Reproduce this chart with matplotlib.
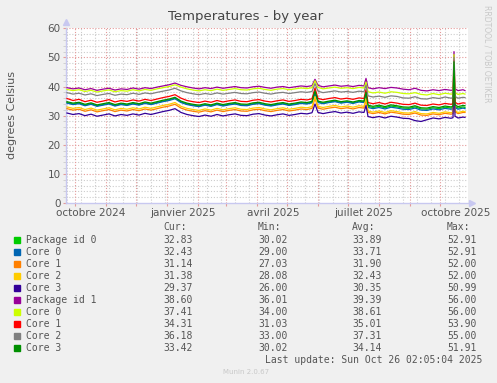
import datetime as dt
import matplotlib
matplotlib.use("Agg")
import matplotlib.pyplot as plt
import matplotlib.dates as mdates
from matplotlib.ticker import MultipleLocator

W, H = 497, 383

# --- data (daily averages) ---
start = dt.date(2024, 9, 23)
day_offsets = [0, 6, 12, 18, 24, 30, 36, 42, 48, 54,
               60, 66, 72, 78, 84, 90, 96, 102, 108, 114,
               120, 126, 132, 138, 144, 150, 156, 162, 168, 174,
               180, 186, 192, 198, 204, 210, 216, 222, 228, 234,
               240, 245, 248, 251, 256, 262, 268, 274, 280, 286,
               292, 297, 299, 301, 306, 312, 318, 324, 330, 336,
               342, 348, 354, 360, 366, 372, 378, 384, 386, 387,
               388, 391, 396, 398]

pkg0 = [34.5, 34.0, 34.3, 33.6, 34.1, 33.4, 33.8, 34.2, 33.5, 34.0,
        33.7, 34.2, 33.8, 34.4, 34.0, 34.5, 35.0, 35.4, 36.0, 34.7,
        34.0, 33.6, 33.3, 33.8, 33.4, 34.0, 33.5, 33.9, 34.2, 33.7,
        33.6, 34.1, 34.3, 33.8, 33.5, 33.9, 34.2, 33.7, 34.0, 34.4,
        34.2, 34.6, 38.0, 34.7, 34.3, 34.7, 35.0, 34.5, 34.8, 34.4,
        34.9, 34.7, 37.5, 33.2, 32.8, 33.2, 32.7, 33.3, 33.0, 32.6,
        32.5, 33.0, 32.3, 32.2, 32.7, 32.4, 32.9, 32.6, 32.8, 48.0,
        33.2, 32.6, 33.0, 32.8]
core0_a = [34.3, 33.8, 34.1, 33.4, 33.9, 33.2, 33.6, 34.0, 33.3, 33.8,
           33.5, 34.0, 33.6, 34.2, 33.8, 34.3, 34.8, 35.2, 35.8, 34.5,
           33.8, 33.4, 33.1, 33.6, 33.2, 33.8, 33.3, 33.7, 34.0, 33.5,
           33.4, 33.9, 34.1, 33.6, 33.3, 33.7, 34.0, 33.5, 33.8, 34.2,
           34.0, 34.4, 37.8, 34.5, 34.1, 34.5, 34.8, 34.3, 34.6, 34.2,
           34.7, 34.5, 37.2, 32.8, 32.4, 32.8, 32.3, 32.9, 32.6, 32.2,
           32.1, 32.6, 31.9, 31.8, 32.3, 32.0, 32.5, 32.2, 32.4, 48.0,
           32.8, 32.2, 32.6, 32.4]
core1_a = [32.4, 31.9, 32.2, 31.5, 32.0, 31.3, 31.7, 32.1, 31.4, 31.9,
           31.6, 32.1, 31.7, 32.3, 31.9, 32.4, 32.9, 33.3, 33.9, 32.6,
           31.9, 31.5, 31.2, 31.7, 31.3, 31.9, 31.4, 31.8, 32.1, 31.6,
           31.5, 32.0, 32.2, 31.7, 31.4, 31.8, 32.1, 31.6, 31.9, 32.3,
           32.1, 32.5, 36.0, 32.6, 32.2, 32.6, 32.9, 32.4, 32.7, 32.3,
           32.8, 32.6, 35.5, 31.1, 30.7, 31.1, 30.6, 31.2, 30.9, 30.5,
           30.4, 30.9, 30.2, 30.1, 30.6, 30.3, 30.8, 30.5, 30.7, 47.0,
           31.3, 30.7, 31.1, 31.1]
core2_a = [33.0, 32.5, 32.8, 32.1, 32.6, 31.9, 32.3, 32.7, 32.0, 32.5,
           32.2, 32.7, 32.3, 32.9, 32.5, 33.0, 33.5, 33.9, 34.5, 33.2,
           32.5, 32.1, 31.8, 32.3, 31.9, 32.5, 32.0, 32.4, 32.7, 32.2,
           32.1, 32.6, 32.8, 32.3, 32.0, 32.4, 32.7, 32.2, 32.5, 32.9,
           32.7, 33.1, 36.5, 33.2, 32.8, 33.2, 33.5, 33.0, 33.3, 32.9,
           33.4, 33.2, 36.0, 31.6, 31.2, 31.6, 31.1, 31.7, 31.4, 31.0,
           30.9, 31.4, 30.7, 30.6, 31.1, 30.8, 31.3, 31.0, 31.2, 47.5,
           31.7, 31.1, 31.5, 31.4]
core3_a = [30.9, 30.4, 30.7, 30.0, 30.5, 29.8, 30.2, 30.6, 29.9, 30.4,
           30.1, 30.6, 30.2, 30.8, 30.4, 30.9, 31.4, 31.8, 32.4, 31.1,
           30.4, 30.0, 29.7, 30.2, 29.8, 30.4, 29.9, 30.3, 30.6, 30.1,
           30.0, 30.5, 30.7, 30.2, 29.9, 30.3, 30.6, 30.1, 30.4, 30.8,
           30.6, 31.0, 34.0, 31.1, 30.7, 31.1, 31.4, 30.9, 31.2, 30.8,
           31.3, 31.1, 33.5, 29.7, 29.3, 29.7, 29.2, 29.8, 29.5, 29.1,
           29.0, 28.3, 28.0, 28.6, 29.2, 28.9, 29.4, 29.1, 29.3, 46.0,
           29.8, 29.2, 29.5, 29.4]
pkg1 = [39.6, 39.2, 39.5, 38.9, 39.3, 38.7, 39.1, 39.4, 38.8, 39.2,
        39.0, 39.5, 39.1, 39.6, 39.3, 39.8, 40.2, 40.6, 41.2, 40.4,
        39.9, 39.5, 39.2, 39.6, 39.3, 39.8, 39.4, 39.7, 40.0, 39.6,
        39.5, 39.9, 40.1, 39.7, 39.4, 39.8, 40.0, 39.6, 39.9, 40.2,
        40.0, 40.3, 42.5, 40.4, 39.9, 40.2, 40.5, 40.1, 40.3, 40.0,
        40.4, 40.2, 42.8, 39.6, 39.2, 39.6, 39.3, 39.7, 39.5, 39.1,
        38.9, 39.4, 38.7, 38.5, 38.9, 38.6, 39.0, 38.7, 38.8, 52.0,
        39.2, 38.6, 38.9, 38.6]
core0_b = [39.0, 38.6, 38.9, 38.3, 38.7, 38.1, 38.5, 38.8, 38.2, 38.6,
           38.4, 38.9, 38.5, 39.0, 38.7, 39.2, 39.6, 40.0, 40.6, 39.8,
           39.2, 38.8, 38.5, 38.9, 38.6, 39.1, 38.7, 39.0, 39.3, 38.9,
           38.8, 39.2, 39.4, 39.0, 38.7, 39.1, 39.3, 38.9, 39.2, 39.5,
           39.3, 39.6, 42.0, 39.7, 39.2, 39.5, 39.8, 39.4, 39.6, 39.3,
           39.7, 39.5, 41.5, 38.2, 37.8, 38.1, 37.7, 38.2, 38.0, 37.6,
           37.5, 37.9, 37.3, 37.1, 37.6, 37.2, 37.7, 37.4, 37.5, 51.0,
           37.9, 37.3, 37.6, 37.4]
core1_b = [35.9, 35.2, 35.6, 34.8, 35.3, 34.6, 35.0, 35.5, 34.7, 35.2,
           34.9, 35.4, 35.0, 35.6, 35.2, 35.7, 36.2, 36.6, 37.2, 36.0,
           35.2, 34.8, 34.5, 35.0, 34.6, 35.2, 34.7, 35.1, 35.4, 34.9,
           34.8, 35.3, 35.5, 35.0, 34.7, 35.1, 35.4, 34.9, 35.2, 35.6,
           35.4, 35.8, 39.5, 35.9, 35.5, 35.9, 36.2, 35.7, 36.0, 35.6,
           36.1, 35.9, 39.0, 34.5, 34.1, 34.5, 34.0, 34.6, 34.3, 33.9,
           33.8, 34.3, 33.6, 33.5, 34.0, 33.7, 34.2, 33.9, 34.1, 49.0,
           34.6, 34.0, 34.4, 34.3]
core2_b = [37.9, 37.4, 37.7, 37.1, 37.5, 36.9, 37.3, 37.6, 37.0, 37.4,
           37.2, 37.7, 37.3, 37.8, 37.5, 38.0, 38.4, 38.8, 39.4, 38.5,
           37.9, 37.5, 37.2, 37.6, 37.3, 37.8, 37.4, 37.7, 38.0, 37.6,
           37.5, 37.9, 38.1, 37.7, 37.4, 37.8, 38.0, 37.6, 37.9, 38.2,
           38.0, 38.3, 41.0, 38.4, 37.9, 38.2, 38.5, 38.1, 38.3, 38.0,
           38.4, 38.2, 40.5, 36.8, 36.4, 36.7, 36.3, 36.8, 36.6, 36.1,
           36.0, 36.5, 35.8, 35.7, 36.2, 35.9, 36.4, 36.0, 36.2, 50.0,
           36.6, 36.0, 36.3, 36.2]
core3_b = [34.8, 34.3, 34.6, 33.9, 34.4, 33.7, 34.1, 34.5, 33.8, 34.3,
           34.0, 34.5, 34.1, 34.7, 34.3, 34.8, 35.3, 35.7, 36.3, 35.0,
           34.3, 33.9, 33.6, 34.1, 33.7, 34.3, 33.8, 34.2, 34.5, 34.0,
           33.9, 34.4, 34.6, 34.1, 33.8, 34.2, 34.5, 34.0, 34.3, 34.7,
           34.5, 34.9, 38.5, 35.0, 34.6, 35.0, 35.3, 34.8, 35.1, 34.7,
           35.2, 35.0, 38.0, 33.6, 33.2, 33.6, 33.1, 33.7, 33.4, 33.0,
           32.9, 33.4, 32.7, 32.6, 33.1, 32.8, 33.3, 33.0, 33.2, 48.5,
           33.7, 33.1, 33.5, 33.4]

labels = ["Package id 0", "Core 0", "Core 1", "Core 2", "Core 3",
          "Package id 1", "Core 0", "Core 1", "Core 2", "Core 3"]
colors = ["#00cc00", "#0066b3", "#ff8000", "#ffcc00", "#330099",
          "#990099", "#ccff00", "#ff0000", "#808080", "#008f00"]
cur_vals = ["32.83", "32.43", "31.14", "31.38", "29.37",
            "38.60", "37.41", "34.31", "36.18", "33.42"]
min_vals = ["30.02", "29.00", "27.03", "28.08", "26.00",
            "36.01", "34.00", "31.03", "33.00", "30.02"]
avg_vals = ["33.89", "33.71", "31.90", "32.43", "30.35",
            "39.39", "38.61", "35.01", "37.31", "34.14"]
max_vals = ["52.91", "52.91", "52.00", "52.00", "50.99",
            "56.00", "56.00", "53.90", "55.00", "51.91"]
month_labels = ["octobre 2024", "janvier 2025", "avril 2025",
                "juillet 2025", "octobre 2025"]
label_months = [dt.date(2024, 10, 1), dt.date(2025, 1, 1), dt.date(2025, 4, 1),
                dt.date(2025, 7, 1), dt.date(2025, 10, 1)]

series = [pkg0, core0_a, core1_a, core2_a, core3_a,
          pkg1, core0_b, core1_b, core2_b, core3_b]
dates = [start + dt.timedelta(days=d) for d in day_offsets]

BG = "#f0f0f0"
TXT = "#555555"
MINOR = "#cccccc"
MAJOR = "#e49a9a"


def fx(px):
    return px / W


def fy(py):
    return 1 - py / H


fig = plt.figure(figsize=(W / 100, H / 100), dpi=100, facecolor=BG)
ax = fig.add_axes([fx(66), fy(203), 402 / W, 174.7 / H], facecolor="white")

x0 = mdates.date2num(dt.date(2024, 9, 22))
x1 = x0 + 402
ax.set_xlim(x0, x1)
ax.set_ylim(0, 60)

# grid: minor gray, major red-ish, both dotted
dot = (0, (1, 1.6))
for v in range(2, 60, 2):
    if v % 10:
        ax.axhline(v, color=MINOR, lw=0.8, ls=dot, zorder=1)
for v in range(10, 61, 10):
    ax.axhline(v, color=MAJOR, lw=0.8, ls=dot, zorder=1)

d = dt.date(2024, 9, 23)
while mdates.date2num(d) < x1:
    ax.axvline(mdates.date2num(d), color=MINOR, lw=0.8, ls=dot, zorder=1)
    d += dt.timedelta(days=14)

months = []
y, m = 2024, 10
while mdates.date2num(dt.date(y, m, 1)) < x1:
    months.append(mdates.date2num(dt.date(y, m, 1)))
    m += 1
    if m > 12:
        y, m = y + 1, 1
for mx in months:
    ax.axvline(mx, color=MAJOR, lw=0.8, ls=dot, zorder=1)

for vals, c in zip(series, colors):
    ax.plot(mdates.date2num(dates), vals, color=c, lw=0.9, zorder=3)

# axes
for s in ["top", "right"]:
    ax.spines[s].set_visible(False)
for s in ["left", "bottom"]:
    ax.spines[s].set_color("#c8c8f0")
    ax.spines[s].set_linewidth(1.0)
ax.plot([0], [1.035], marker="^", color="#c8c8f0", ms=4, transform=ax.transAxes, clip_on=False)
ax.plot([1.01], [0], marker=">", color="#c8c8f0", ms=4, transform=ax.transAxes, clip_on=False)

ax.yaxis.set_major_locator(MultipleLocator(10))
ax.yaxis.set_minor_locator(MultipleLocator(2))
ax.tick_params(axis="y", which="major", length=2, color=MAJOR, labelsize=7.5,
               labelcolor=TXT, pad=2)
ax.tick_params(axis="y", which="minor", length=2, color=MINOR)
ax.set_xticks(months)
ax.set_xticklabels([])
ax.tick_params(axis="x", which="major", length=2, color=MAJOR)

for lab, md in zip(month_labels, label_months):
    ax.text(mdates.date2num(md) + 16, -0.03, lab, transform=ax.get_xaxis_transform(),
            ha="center", va="top", fontsize=7.5, color=TXT)

fig.text(fx(246), fy(20), "Temperatures - by year", ha="center", va="baseline",
         fontsize=9.5, color="#444444")
fig.text(fx(12), fy(115), "degrees Celsius", rotation=90, ha="center", va="center",
         fontsize=8, color=TXT)
fig.text(fx(487), fy(5), "RRDTOOL / TOBI OETIKER", rotation=270, ha="center", va="top",
         fontsize=5.5, color="#c8c8c8")

# legend table
mono = dict(family="DejaVu Sans Mono", fontsize=7, color=TXT, va="center")
for txt, px in zip(["Cur:", "Min:", "Avg:", "Max:"], [163, 258, 352, 447]):
    fig.text(fx(px), fy(227.5), txt, ha="left", **mono)
for i in range(len(labels)):
    ry = 240 + 12 * i
    fig.patches.append(plt.Rectangle((fx(14), fy(ry + 3)), 6 / W, 6 / H,
                                     transform=fig.transFigure, color=colors[i]))
    fig.text(fx(26), fy(ry), labels[i], ha="left", **mono)
    fig.text(fx(193), fy(ry), cur_vals[i], ha="right", **mono)
    fig.text(fx(288), fy(ry), min_vals[i], ha="right", **mono)
    fig.text(fx(382), fy(ry), avg_vals[i], ha="right", **mono)
    fig.text(fx(477), fy(ry), max_vals[i], ha="right", **mono)
fig.text(fx(482), fy(360), "Last update: Sun Oct 26 02:05:04 2025", ha="right", **mono)
fig.text(fx(246), fy(372), "Munin 2.0.67", ha="center", va="center", fontsize=5,
         color="#c8c8c8")

fig.savefig("out.png", dpi=100, facecolor=BG)
